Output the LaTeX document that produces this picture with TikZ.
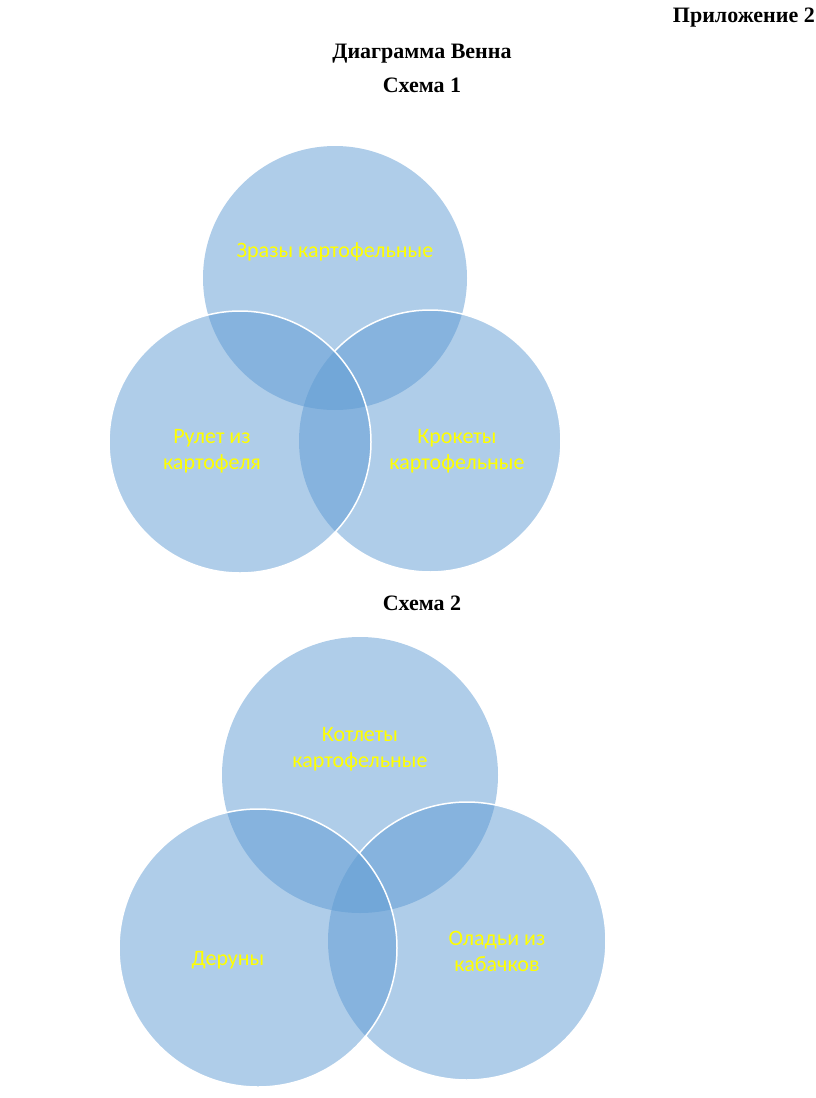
\documentclass[tikz,border=0pt]{standalone}
\usepackage{fontspec}
\setmainfont{Liberation Serif}
\newfontfamily\lblfont{Carlito}
\definecolor{vennblue}{RGB}{92,153,210}
\definecolor{lblyellow}{RGB}{255,255,0}
\begin{document}
\begin{tikzpicture}[x=1pt,y=1pt,
  venn/.style={circle, inner sep=0pt, fill=vennblue, fill opacity=0.49, text opacity=1},
  ttl/.style={font=\fontsize{22}{26}\selectfont\bfseries, inner sep=0pt, anchor=base},
  lbl/.style={font=\lblfont\fontsize{22}{26}\selectfont, text=lblyellow, align=center, inner sep=0pt},
  edge/.style={draw=white, line width=1.5pt}]
\useasboundingbox (0,0) rectangle (816,-1098);
% titles
\node[ttl, anchor=base east] (app) at (815,-22) {Приложение 2};
\node[ttl] (t1) at (422,-58) {Диаграмма Венна};
\node[ttl] (s1) at (422,-92) {Схема 1};
\node[ttl] (s2) at (422,-610) {Схема 2};
% scheme 1
\node[venn, minimum size=264pt] (a1) at (335,-278) {};
\node[venn, minimum size=262pt] (c1) at (430,-441) {};
\node[venn, minimum size=262pt] (b1) at (240,-442) {};
\draw[edge] ([shift={(-136.2:131)}]c1.center) arc[start angle=-136.2, end angle=136.8, radius=131];
\draw[edge] (b1.center) circle[radius=131];
\node[lbl] (la1) at (335,-252) {Зразы картофельные};
\node[lbl] (lb1) at (212,-451) {Рулет из\\картофеля};
\node[lbl] (lc1) at (457,-451) {Крокеты\\картофельные};
% scheme 2
\node[venn, minimum size=276pt] (a2) at (360,-775) {};
\node[venn, minimum size=278pt] (c2) at (467,-941) {};
\node[venn, minimum size=278pt] (b2) at (258,-948) {};
\draw[edge] ([shift={(-136.8:139)}]c2.center) arc[start angle=-136.8, end angle=140.6, radius=139];
\draw[edge] (b2.center) circle[radius=139];
\node[lbl] (la2) at (360,-749) {Котлеты\\картофельные};
\node[lbl] (lb2) at (228,-960) {Деруны};
\node[lbl] (lc2) at (497,-951) {Оладьи из\\кабачков};
\end{tikzpicture}
\end{document}
